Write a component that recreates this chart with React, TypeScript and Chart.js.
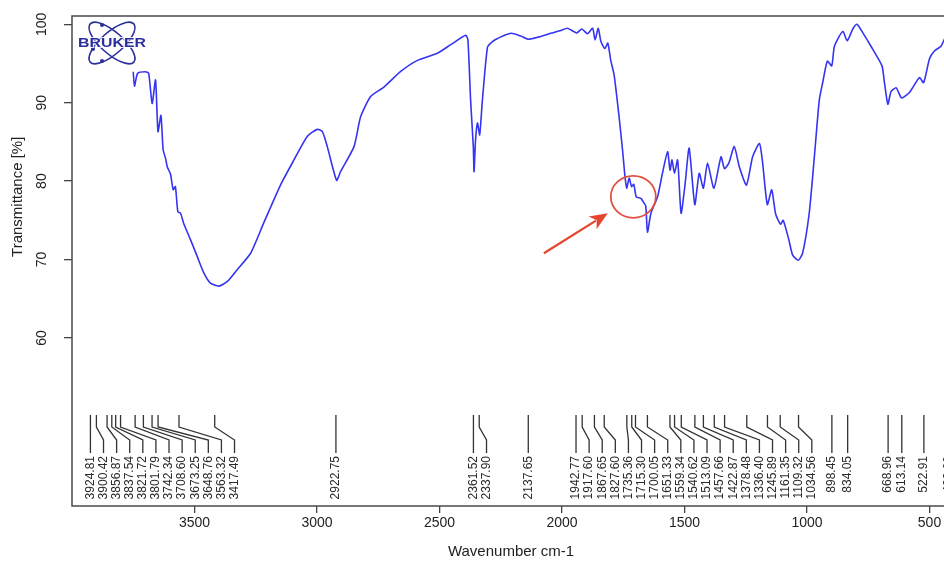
import React, { useEffect, useRef } from "react";
import { Chart, registerables } from "chart.js";

Chart.register(...registerables);

// ---- data ----
const wavenumbers = [
  3750, 3745, 3732, 3700, 3687, 3673, 3659, 3649, 3637, 3628, 3618, 3611, 3598, 3587, 3578, 3568,
  3557, 3544, 3516, 3489, 3462, 3435, 3401, 3366, 3326, 3271, 3217, 3149, 3094, 3040, 2999, 2978,
  2958, 2920, 2904, 2849, 2822, 2781, 2727, 2658, 2590, 2509, 2454, 2393, 2384, 2373, 2362, 2359,
  2353, 2345, 2336, 2325, 2304, 2284, 2263, 2209, 2168, 2137, 2094, 2046, 2005, 1978, 1940, 1919,
  1896, 1875, 1865, 1852, 1841, 1825, 1813, 1801, 1787, 1767, 1753, 1743, 1736, 1726, 1716, 1707,
  1697, 1678, 1665, 1658, 1651, 1637, 1610, 1590, 1569, 1559, 1551, 1541, 1528, 1514, 1498, 1481,
  1458, 1440, 1423, 1406, 1380, 1351, 1337, 1319, 1297, 1276, 1247, 1222, 1194, 1181, 1162, 1144,
  1128, 1108, 1097, 1074, 1059, 1036, 1018, 991, 970, 950, 936, 917, 899, 888, 854, 836,
  813, 796, 772, 739, 694, 684, 670, 657, 636, 614, 582, 541, 524, 500, 480, 453,
  436, 410,
];
const transmittance = [
  93.95, 92.1, 93.75, 93.95, 93.75, 89.9, 92.9, 86.3, 88.4, 84.0, 82.9, 81.8, 80.9, 78.9, 79.3, 76.1,
  75.9, 74.6, 72.5, 70.4, 68.3, 67.0, 66.6, 67.2, 68.7, 70.8, 74.7, 79.5, 82.7, 85.7, 86.6, 86.3,
  84.4, 80.1, 81.2, 84.4, 88.2, 90.8, 92.0, 94.0, 95.4, 96.3, 97.4, 98.6, 98.0, 90.3, 84.4, 81.2,
  85.2, 87.4, 85.9, 90.3, 97.1, 97.8, 98.2, 98.85, 98.5, 98.1, 98.4, 98.85, 99.2, 99.5, 98.9, 99.4,
  98.8, 99.5, 98.0, 99.5, 97.8, 96.9, 97.6, 95.4, 93.5, 88.2, 84.0, 80.6, 79.1, 80.4, 79.3, 79.6,
  78.0, 77.8, 77.2, 76.8, 73.5, 75.9, 78.0, 81.0, 83.75, 81.4, 82.7, 81.0, 82.7, 75.9, 79.5, 84.2,
  77.0, 81.0, 79.1, 82.3, 79.1, 83.1, 81.6, 82.3, 84.4, 81.8, 79.5, 83.1, 84.8, 82.3, 77.0, 78.9,
  75.8, 74.5, 75.0, 72.5, 70.6, 69.9, 70.8, 75.9, 83.1, 90.3, 92.55, 95.3, 94.7, 97.2, 99.1, 97.9,
  99.4, 100.0, 98.9, 97.2, 94.7, 92.6, 89.8, 91.4, 91.9, 90.6, 91.3, 93.2, 92.55, 95.6, 96.6, 97.2,
  98.3, 99.2,
];
const peakWavenumbers = [
  3924.81, 3900.42, 3856.87, 3837.54, 3821.72, 3801.79, 3742.34, 3708.6, 3673.25, 3648.76, 3563.32,
  3417.49, 2922.75, 2361.52, 2337.9, 2137.65, 1942.77, 1917.6, 1867.65, 1827.6, 1735.36, 1715.3,
  1700.05, 1651.33, 1559.34, 1540.62, 1513.09, 1457.66, 1422.87, 1378.48, 1336.4, 1245.89, 1161.35,
  1109.32, 1034.56, 898.45, 834.05, 668.96, 613.14, 522.91, 423.0,
];
const xTickValues = [3500, 3000, 2500, 2000, 1500, 1000, 500];
const yTickValues = [60, 70, 80, 90, 100];
const xTitle = "Wavenumber cm-1";
const yTitle = "Transmittance [%]";
const logoText = "BRUKER";

// annotation anchors (data coordinates)
const circleAnchor = { x: 1709, y: 78 };
const arrowTail = { x: 2074, y: 70.8 };
const arrowTip = { x: 1813, y: 75.9 };

const FONT = "'Liberation Sans', Arial, Helvetica, sans-serif";

const overlayPlugin = {
  id: "irOverlay",
  afterDraw(chart: any) {
    const { ctx, chartArea: a, scales } = chart;
    const xs = scales.x;
    const ys = scales.y;
    ctx.save();

    // frame
    ctx.strokeStyle = "#4a4a4a";
    ctx.lineWidth = 1.5;
    ctx.strokeRect(a.left, a.top, a.right - a.left, a.bottom - a.top);

    // y tick labels (rotated)
    ctx.fillStyle = "#222";
    ctx.font = `14px ${FONT}`;
    ctx.textAlign = "center";
    ctx.textBaseline = "middle";
    yTickValues.forEach((v) => {
      const py = ys.getPixelForValue(v);
      ctx.save();
      ctx.translate(a.left - 30, py);
      ctx.rotate(-Math.PI / 2);
      ctx.fillText(String(v), 0, 0);
      ctx.restore();
    });

    // y title
    ctx.save();
    ctx.font = `15px ${FONT}`;
    ctx.translate(a.left - 54, ys.getPixelForValue(78.0));
    ctx.rotate(-Math.PI / 2);
    ctx.fillText(yTitle, 0, 0);
    ctx.restore();

    // x title
    ctx.font = `15px ${FONT}`;
    ctx.fillText(xTitle, (a.left + a.right) / 2 - 2, a.bottom + 46);

    // peak labels
    const sorted = [...peakWavenumbers].sort((p, q) => q - p);
    const gap = 13.1;
    const px = sorted.map((p) => xs.getPixelForValue(p));
    const lx: number[] = [];
    px.forEach((p, i) => {
      lx.push(i === 0 ? p : Math.max(p, lx[i - 1] + gap));
    });
    const yTop = a.bottom - 91;
    const yB1 = a.bottom - 79;
    const yB2 = a.bottom - 66;
    const yEnd = a.bottom - 53;
    ctx.strokeStyle = "#333";
    ctx.lineWidth = 1.3;
    ctx.fillStyle = "#2a2a2a";
    ctx.font = `12px ${FONT}`;
    ctx.textAlign = "right";
    ctx.textBaseline = "middle";
    sorted.forEach((p, i) => {
      ctx.beginPath();
      ctx.moveTo(px[i], yTop);
      ctx.lineTo(px[i], yB1);
      ctx.lineTo(lx[i], yB2);
      ctx.lineTo(lx[i], yEnd);
      ctx.stroke();
      ctx.save();
      ctx.translate(lx[i], yEnd + 3);
      ctx.rotate(-Math.PI / 2);
      ctx.fillText(p.toFixed(2), 0, 0);
      ctx.restore();
    });

    // Bruker logo
    const cx = a.left + 40;
    const cy = a.top + 27;
    ctx.strokeStyle = "#2a2f9c";
    ctx.fillStyle = "#2a2f9c";
    ctx.lineWidth = 1.6;
    [0.72, -0.72].forEach((ang) => {
      ctx.beginPath();
      ctx.ellipse(cx, cy, 29, 11, ang, 0, Math.PI * 2);
      ctx.stroke();
    });
    [
      [cx - 10, cy - 18],
      [cx - 10, cy + 18],
      [cx - 19, cy + 6],
    ].forEach(([dx, dy]) => {
      ctx.beginPath();
      ctx.arc(dx, dy, 2, 0, Math.PI * 2);
      ctx.fill();
    });
    ctx.save();
    ctx.translate(cx, cy + 1);
    ctx.scale(1.22, 0.95);
    ctx.font = `bold 13px ${FONT}`;
    ctx.textAlign = "center";
    ctx.textBaseline = "middle";
    ctx.lineWidth = 2;
    ctx.strokeStyle = "rgba(255,255,255,0.8)";
    ctx.strokeText(logoText, 0, 0);
    ctx.fillText(logoText, 0, 0);
    ctx.restore();

    // red circle
    const ccx = xs.getPixelForValue(circleAnchor.x);
    const ccy = ys.getPixelForValue(circleAnchor.y);
    ctx.strokeStyle = "#e0503e";
    ctx.lineWidth = 1.8;
    ctx.beginPath();
    ctx.ellipse(ccx, ccy, 22.5, 21, 0, 0, Math.PI * 2);
    ctx.stroke();

    // red arrow
    const tx = xs.getPixelForValue(arrowTail.x);
    const ty = ys.getPixelForValue(arrowTail.y);
    const hx = xs.getPixelForValue(arrowTip.x);
    const hy = ys.getPixelForValue(arrowTip.y);
    const ang = Math.atan2(hy - ty, hx - tx);
    const headLen = 18;
    const headW = 7.5;
    const bx = hx - headLen * Math.cos(ang);
    const by = hy - headLen * Math.sin(ang);
    ctx.strokeStyle = "#e5452f";
    ctx.fillStyle = "#e5452f";
    ctx.lineWidth = 2.2;
    ctx.beginPath();
    ctx.moveTo(tx, ty);
    ctx.lineTo(bx + 4 * Math.cos(ang), by + 4 * Math.sin(ang));
    ctx.stroke();
    ctx.beginPath();
    ctx.moveTo(hx, hy);
    ctx.lineTo(bx + headW * Math.sin(ang), by - headW * Math.cos(ang));
    ctx.lineTo(bx + 5 * Math.cos(ang), by + 5 * Math.sin(ang));
    ctx.lineTo(bx - headW * Math.sin(ang), by + headW * Math.cos(ang));
    ctx.closePath();
    ctx.fill();

    ctx.restore();
  },
};

export default function App() {
  const canvasRef = useRef<HTMLCanvasElement | null>(null);

  useEffect(() => {
    if (!canvasRef.current) return;
    const chart = new Chart(canvasRef.current, {
      type: "line",
      data: {
        datasets: [
          {
            data: wavenumbers.map((w, i) => ({ x: w, y: transmittance[i] })),
            borderColor: "#3434f2",
            borderWidth: 1.6,
            pointRadius: 0,
            tension: 0.2,
            fill: false,
          },
        ],
      },
      options: {
        animation: false,
        responsive: true,
        maintainAspectRatio: false,
        layout: { padding: { top: 16, left: 0, right: 0, bottom: 0 } },
        plugins: { legend: { display: false }, tooltip: { enabled: false }, title: { display: false } },
        scales: {
          x: {
            type: "linear",
            reverse: true,
            min: 400,
            max: 4000,
            afterBuildTicks: (scale: any) => {
              scale.ticks = xTickValues.map((v) => ({ value: v }));
            },
            afterFit: (scale: any) => {
              scale.height = 58;
            },
            grid: { display: true, drawOnChartArea: false, drawTicks: true, tickLength: 7, color: "#444", lineWidth: 1.3 },
            border: { display: false },
            ticks: {
              color: "#222",
              font: { family: FONT, size: 14 },
              padding: 2,
              maxRotation: 0,
              autoSkip: false,
              callback: (v: any) => String(v),
            },
          },
          y: {
            type: "linear",
            min: 38.56,
            max: 101.06,
            afterBuildTicks: (scale: any) => {
              scale.ticks = yTickValues.map((v) => ({ value: v }));
            },
            afterFit: (scale: any) => {
              scale.width = 72;
            },
            grid: { display: true, drawOnChartArea: false, drawTicks: true, tickLength: 8, color: "#444", lineWidth: 1.3 },
            border: { display: false },
            ticks: { display: false },
          },
        },
      },
      plugins: [overlayPlugin],
    });
    return () => chart.destroy();
  }, []);

  return (
    <div style={{ position: "fixed", left: 0, top: 0, width: 944, height: 564, overflow: "hidden", background: "#fff" }}>
      <div style={{ position: "absolute", left: 0, top: 0, width: 954, height: 564 }}>
        <canvas ref={canvasRef} />
      </div>
    </div>
  );
}
